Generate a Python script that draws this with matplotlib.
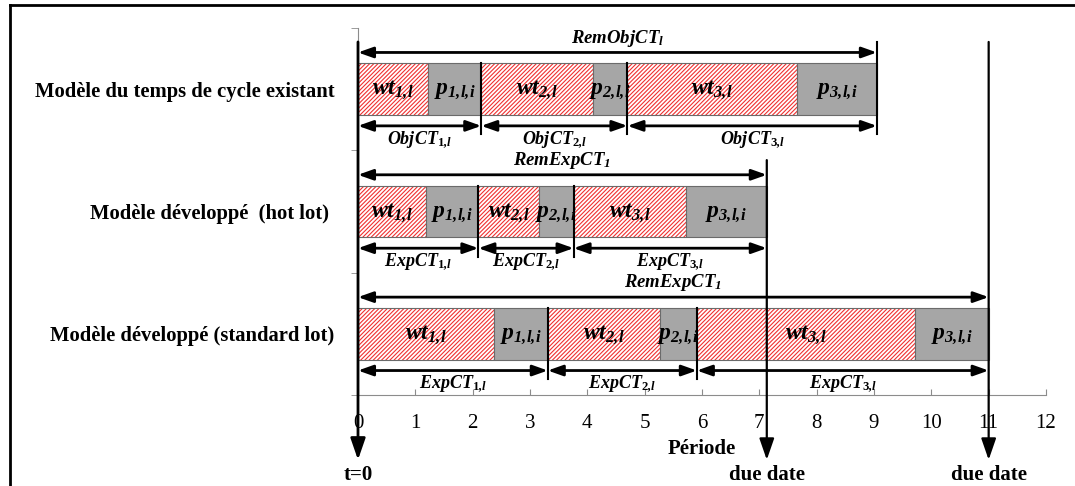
import matplotlib
matplotlib.use("Agg")
import matplotlib.pyplot as plt
from matplotlib.lines import Line2D

# Données (durées en périodes)
modeles = ["Modèle du temps de cycle existant",
           "Modèle développé  (hot lot) ",
           "Modèle développé (standard lot)"]
wt_existant = [1.22, 1.95, 2.95]
p_existant = [0.93, 0.60, 1.40]
wt_hot = [1.19, 1.05, 1.96]
p_hot = [0.91, 0.61, 1.41]
wt_standard = [2.38, 1.96, 3.80]
p_standard = [0.93, 0.64, 1.29]
rem_labels = [r"$RemObjCT_l$", r"$RemExpCT_1$", r"$RemExpCT_1$"]
ct_prefix = ["ObjCT", "ExpCT", "ExpCT"]
due_dates = [7.13, 11.0]
x_ticks = list(range(0, 13))

plt.rcParams["mathtext.fontset"] = "custom"
plt.rcParams["mathtext.it"] = "Liberation Serif:italic:bold"
plt.rcParams["mathtext.rm"] = "Liberation Serif:italic:bold"
plt.rcParams["mathtext.bf"] = "Liberation Serif:bold"
plt.rcParams["hatch.linewidth"] = 0.8

fig = plt.figure(figsize=(10.75, 4.86), dpi=100)
ax = fig.add_axes([358 / 1075, 1 - 395 / 486, 688 / 1075, 367 / 486])
ax.set_xlim(0, 12)
ax.set_ylim(0, 3)

lignes = [(wt_existant, p_existant), (wt_hot, p_hot), (wt_standard, p_standard)]
centres = [2.5, 1.5, 0.5]
h = 0.425
fleche = dict(arrowstyle="<|-|>,head_length=0.9,head_width=0.32",
              color="black", lw=2, mutation_scale=10, shrinkA=0, shrinkB=0)

for k, (wt, p) in enumerate(lignes):
    yc = centres[k]
    start = 0.0
    bounds = [0.0]
    for j in range(3):
        # attente (hachuré rouge)
        ax.barh(yc, wt[j], left=start, height=h, color="white",
                edgecolor="#f03030", hatch="////////", lw=0)
        ax.barh(yc, wt[j], left=start, height=h, fill=False,
                edgecolor="#6b6b6b", lw=0.8)
        ax.text(start + wt[j] / 2, yc, r"$wt_{%d,\!l}$" % (j + 1),
                ha="center", va="center", fontsize=17)
        start += wt[j]
        # traitement (gris)
        ax.barh(yc, p[j], left=start, height=h, color="#a6a6a6",
                edgecolor="#6b6b6b", lw=0.8)
        ax.text(start + p[j] / 2, yc, r"$p_{%d,\!l,\!i}$" % (j + 1),
                ha="center", va="center", fontsize=17)
        start += p[j]
        bounds.append(start)

    total = bounds[-1]
    # flèche du temps de cycle restant
    ax.annotate("", xy=(total, yc + 0.30), xytext=(0, yc + 0.30),
                arrowprops=fleche, annotation_clip=False)
    ax.text(total / 2, yc + 0.33, rem_labels[k], ha="center", va="bottom",
            fontsize=13.5)
    # flèches par opération
    for j in range(3):
        ax.annotate("", xy=(bounds[j + 1], yc - 0.30), xytext=(bounds[j], yc - 0.30),
                    arrowprops=fleche, annotation_clip=False)
        ax.text((bounds[j] + bounds[j + 1]) / 2, yc - 0.33,
                r"$%s_{\mathbf{%d},\!l}$" % (ct_prefix[k], j + 1),
                ha="center", va="top", fontsize=13)
    # séparateurs verticaux
    for b in bounds[1:3]:
        ax.plot([b, b], [yc + h / 2, yc - 0.37], color="black", lw=1.5,
                clip_on=False)
    if k == 0:
        ax.plot([total, total], [2.886, yc - 0.37], color="black", lw=1.5,
                clip_on=False)

# t=0 et dates dues
tops = {0: 2.886, 7.13: 1.92, 11.0: 2.886}
for x, lab in [(0, "t=0"), (due_dates[0], "due date"), (due_dates[1], "due date")]:
    ax.annotate("", xy=(x, -0.53), xytext=(x, tops[x]),
                arrowprops=dict(arrowstyle="-|>,head_length=1.3,head_width=0.45",
                                color="black", lw=2 if x == 0 else 1.6,
                                mutation_scale=10, shrinkA=0, shrinkB=0),
                annotation_clip=False)
    ax.text(x, -0.65, lab, ha="center", va="center", fontsize=15,
            fontweight="bold", fontfamily="Liberation Serif")

# axes
for s in ["top", "right"]:
    ax.spines[s].set_visible(False)
ax.spines["left"].set_color("#8c8c8c")
ax.spines["bottom"].set_color("#8c8c8c")
ax.set_xticks(x_ticks)
ax.set_xticklabels([str(t) for t in x_ticks], fontfamily="Liberation Serif",
                   fontsize=15)
ax.tick_params(axis="x", direction="in", length=4, color="#8c8c8c", pad=14)
ax.set_yticks(centres)
ax.set_yticklabels(modeles, fontfamily="Liberation Serif", fontsize=14.9,
                   fontweight="bold")
ax.tick_params(axis="y", which="major", length=0, pad=17)
ax.set_yticks([0, 1, 2, 3], minor=True)
ax.tick_params(axis="y", which="minor", direction="out", length=5,
               color="#8c8c8c")
ax.set_xlabel("Période", fontfamily="Liberation Serif", fontsize=15,
              fontweight="bold", labelpad=4)

# cadre
fig.add_artist(Line2D([10 / 1075, 10 / 1075], [0, 1 - 5 / 486],
                      transform=fig.transFigure, color="black", lw=2))
fig.add_artist(Line2D([10 / 1075, 1], [1 - 5 / 486, 1 - 5 / 486],
                      transform=fig.transFigure, color="black", lw=2))

fig.savefig("out.png", dpi=100)
